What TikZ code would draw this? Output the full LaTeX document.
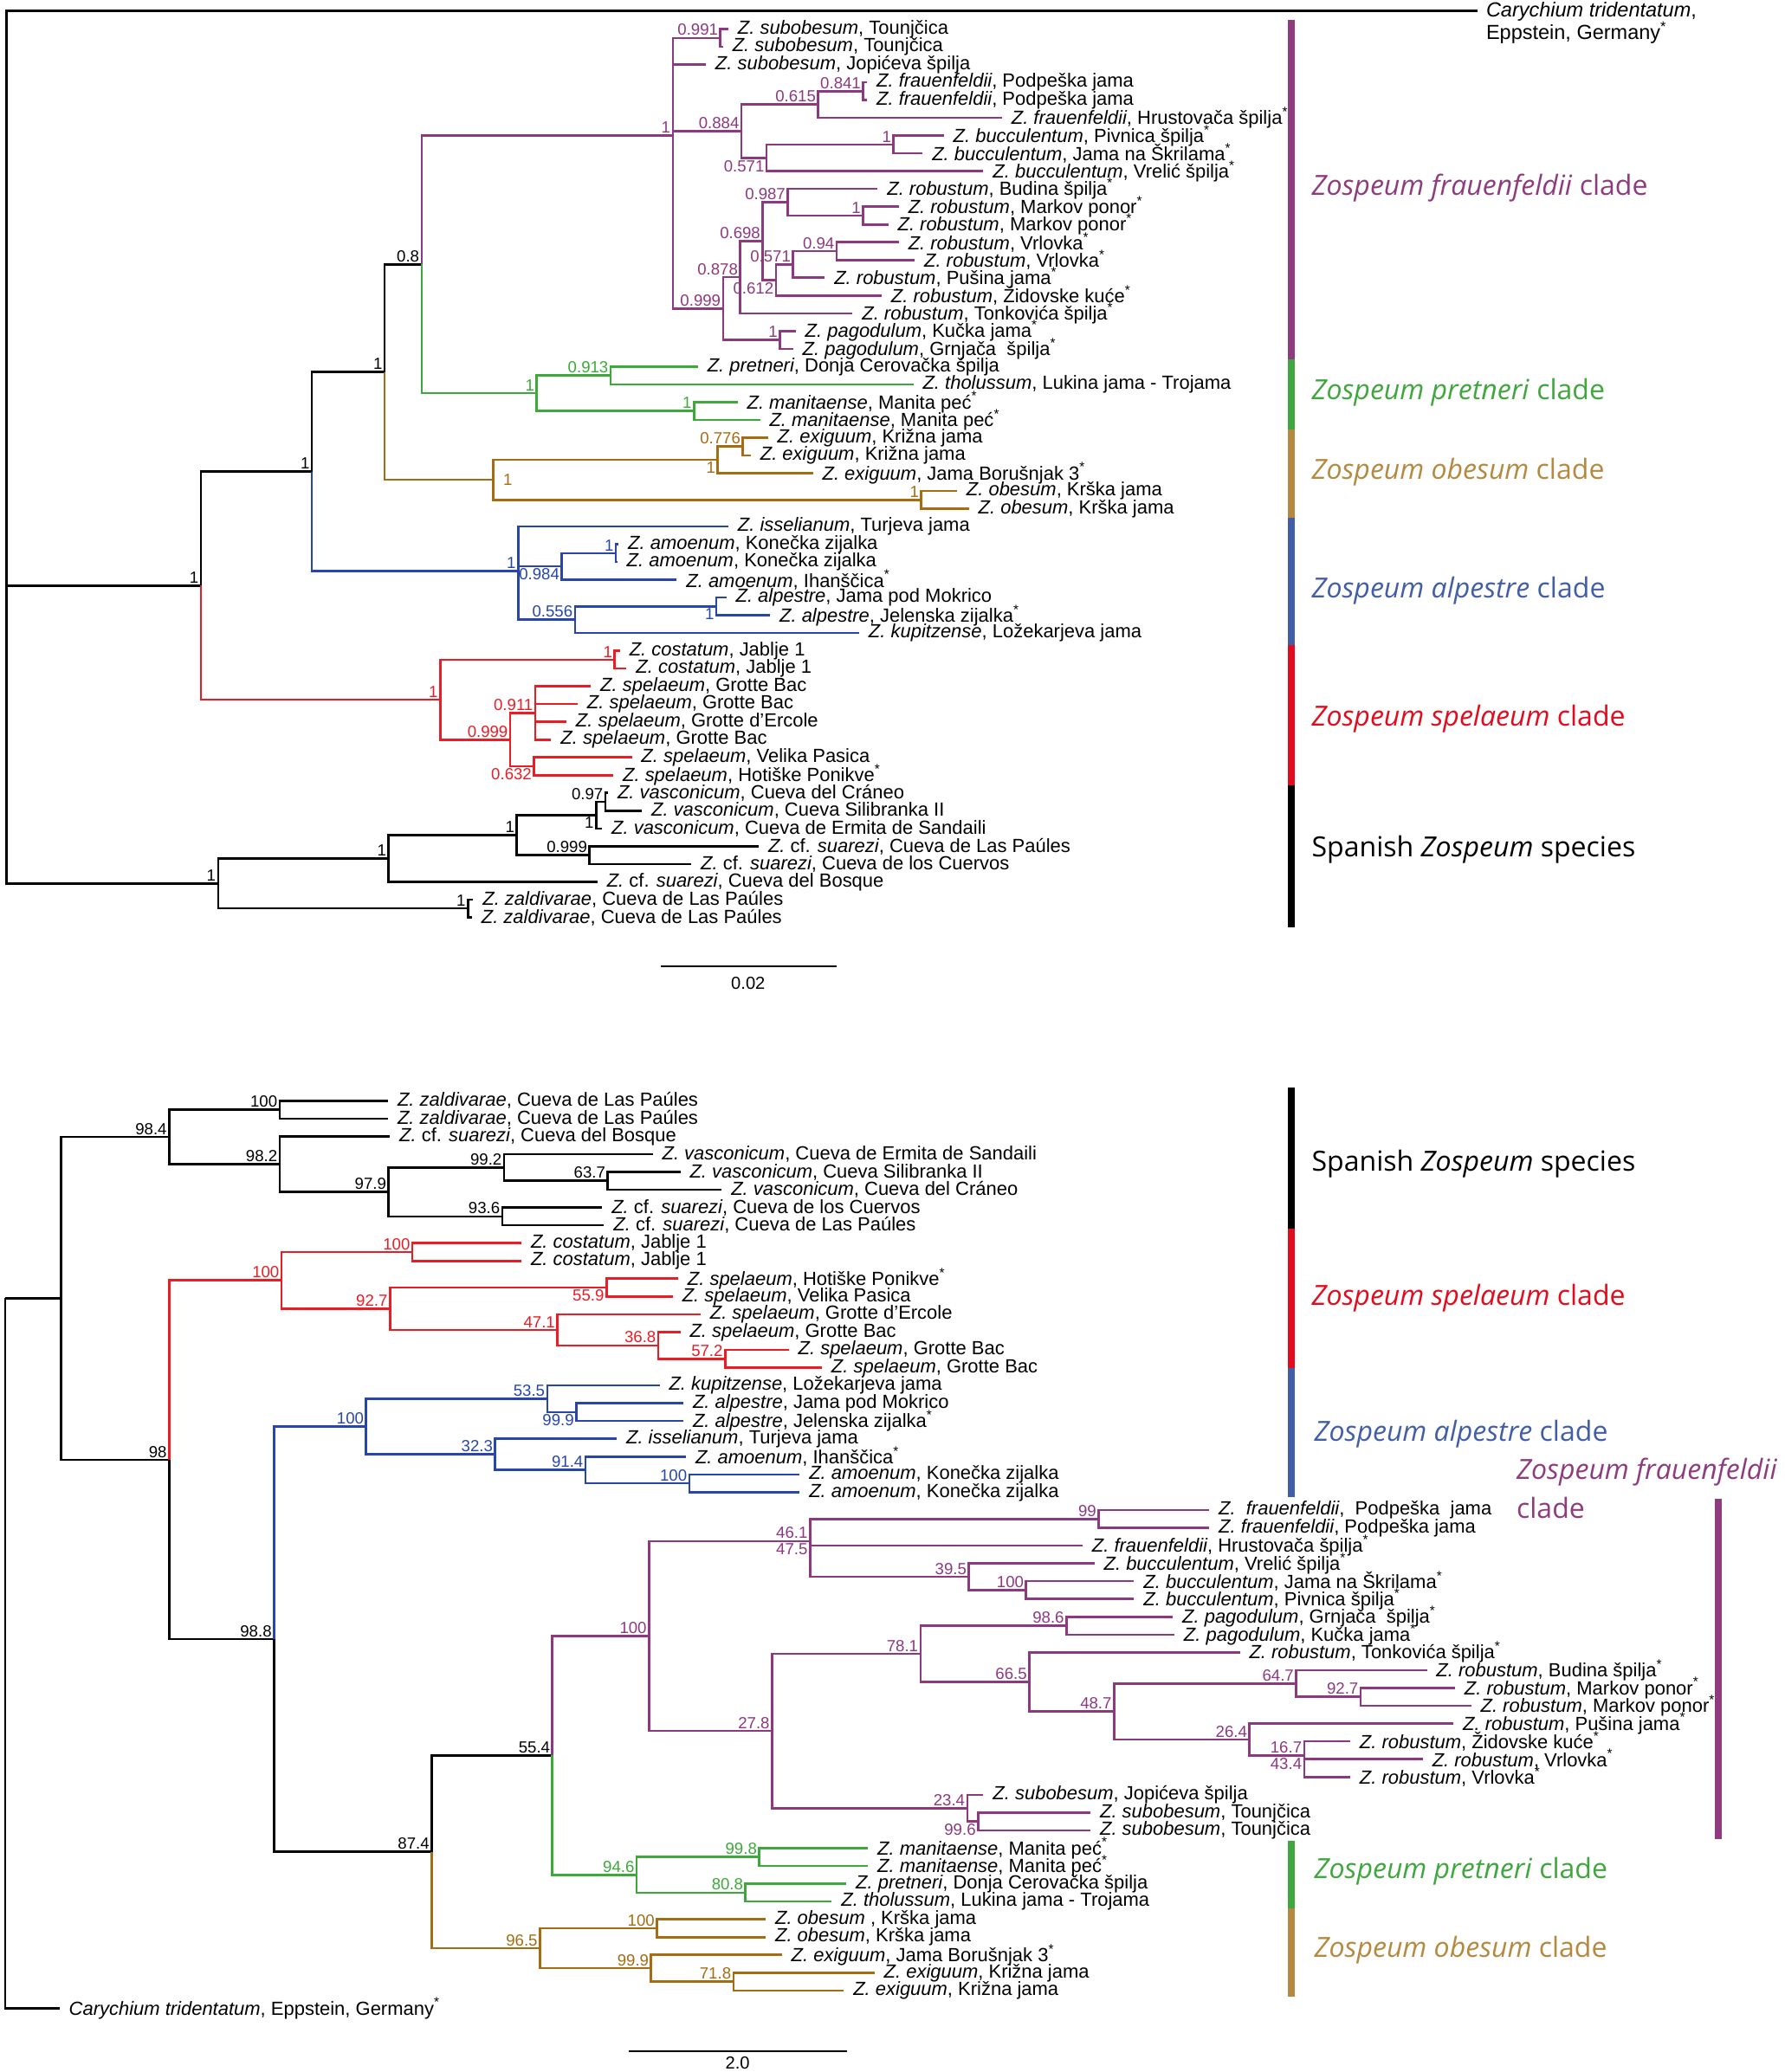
\documentclass[tikz,border=0pt]{standalone}
\usepackage{fontspec}
\setmainfont{Liberation Sans}
\newfontfamily\cladefont{Open Sans}
\definecolor{cpur}{RGB}{142,56,128}
\definecolor{cgrn}{RGB}{60,170,56}
\definecolor{cbrn}{RGB}{166,108,18}
\definecolor{cblu}{RGB}{40,70,168}
\definecolor{cred}{RGB}{236,28,36}
\definecolor{bpur}{RGB}{142,60,126}
\definecolor{bgrn}{RGB}{64,166,62}
\definecolor{bbrn}{RGB}{181,137,64}
\definecolor{bblu}{RGB}{66,94,166}
\definecolor{bred}{RGB}{226,12,30}
\newcommand\astk{\textsuperscript{*}}
\newcommand\tzl[2]{\textit{Z. #1}, #2}
\newcommand\cfs[1]{\textit{Z.} cf. \textit{suarezi}, #1}
\newcommand\tipx[6]{\coordinate (#1) at (#2,#3); \draw[#5] (#4) |- (#1); \node[tx] (#1l) at (#1) {#6};}
\newcommand\edg[3]{\draw[#1] (#2) |- (#3);}
\newcommand\svl[4]{\node[#1,text=#2] (L#3) at (#3) {#4};}
\tikzset{
  tx/.style={anchor=west, inner xsep=3.4pt, inner ysep=0pt, font=\fontsize{7.2}{8}\selectfont},
  sva/.style={anchor=south east, inner sep=0.7pt, font=\fontsize{6.1}{7}\selectfont},
  svb/.style={anchor=north east, inner sep=0.7pt, font=\fontsize{6.1}{7}\selectfont},
  svr/.style={anchor=west, inner sep=0.7pt, xshift=3pt, font=\fontsize{6.1}{7}\selectfont},
  brl/.style={line width=0.85pt},
  eBk/.style={brl, draw=black},
  ePu/.style={brl, draw=cpur},
  eGr/.style={brl, draw=cgrn},
  eBr/.style={brl, draw=cbrn},
  eBl/.style={brl, draw=cblu},
  eRd/.style={brl, draw=cred},
  cl/.style={anchor=west, inner sep=0pt, font=\cladefont\fontsize{10.5}{12}\selectfont},
  cbar/.style={line width=2.8pt},
}
\begin{document}
\begin{tikzpicture}[x=0.5pt,y=-0.5pt]
\fill[white] (0,0) rectangle (1350,1568);
\useasboundingbox (0,0) rectangle (1350,1568);

% ================= TOP TREE =================
\begin{scope}[yshift=-4.27pt, yscale=13.46]
\coordinate (rootT) at (5,32.33);
\coordinate (tout) at (1118,-0.04);
\coordinate (nA) at (152,32.33);
\coordinate (nB) at (236,25.91);
\coordinate (nred) at (333,38.75);
\coordinate (nC) at (291,20.31);
\coordinate (nblue) at (392,31.5);
\coordinate (nD) at (319,14.25);
\coordinate (nbrown) at (373,26.375);
\coordinate (P0) at (509,7.0);
\coordinate (ngreen) at (406,21.5);
\coordinate (n0991) at (545,1.5);
\coordinate (n0884) at (561,6.75);
\coordinate (n0615) at (619,5.25);
\coordinate (n0841) at (653,4.5);
\coordinate (n0571a) at (580,8.25);
\coordinate (nbucc) at (676,7.5);
\coordinate (n0999) at (547,16.734);
\coordinate (n0878) at (560,14.969);
\coordinate (n0698) at (577,12.938);
\coordinate (n0987) at (596,10.75);
\coordinate (nMark) at (653,11.5);
\coordinate (n0612) at (587,15.125);
\coordinate (n0571b) at (600,14.25);
\coordinate (n094) at (633,13.5);
\coordinate (npago) at (590,18.5);
\coordinate (n0913) at (462,20.5);
\coordinate (nmanit) at (525,22.5);
\coordinate (nexig) at (543,25.25);
\coordinate (n0776) at (562,24.5);
\coordinate (nobes) at (697,27.5);
\coordinate (namoen) at (466,30.5);
\coordinate (n0984) at (425,31.25);
\coordinate (n0556) at (435,34.25);
\coordinate (nalp) at (542,33.5);
\coordinate (ncost) at (465,36.5);
\coordinate (n0999r) at (386,41);
\coordinate (n0911) at (405,39.5);
\coordinate (n0632) at (404,42.5);
\coordinate (nsp) at (165,49.09);
\coordinate (nsp2) at (294,47.69);
\coordinate (nsp3) at (391,46.375);
\coordinate (nvasc) at (451,45.25);
\coordinate (n097) at (458,44.5);
\coordinate (nspq) at (446,47.5);
\coordinate (nzald) at (354,50.5);

\edg{eBk}{rootT}{tout}
\edg{eBk}{rootT}{nA}
\edg{eBk}{rootT}{nsp}
\edg{eBk}{nA}{nB}
\edg{eRd}{nA}{nred}
\edg{eBk}{nB}{nC}
\edg{eBl}{nB}{nblue}
\edg{eBk}{nC}{nD}
\edg{eBr}{nC}{nbrown}
\edg{ePu}{nD}{P0}
\edg{eGr}{nD}{ngreen}
% purple
\edg{ePu}{P0}{n0991}
\edg{ePu}{P0}{n0884}
\edg{ePu}{P0}{n0999}
\edg{ePu}{n0884}{n0615}
\edg{ePu}{n0884}{n0571a}
\edg{ePu}{n0615}{n0841}
\edg{ePu}{n0571a}{nbucc}
\edg{ePu}{n0999}{n0878}
\edg{ePu}{n0999}{npago}
\edg{ePu}{n0878}{n0698}
\edg{ePu}{n0698}{n0987}
\edg{ePu}{n0698}{n0612}
\edg{ePu}{n0987}{nMark}
\edg{ePu}{n0612}{n0571b}
\edg{ePu}{n0571b}{n094}
\tipx{t1}{551}{1}{n0991}{ePu}{\tzl{subobesum}{Tounjčica}}
\tipx{t2}{547}{2}{n0991}{ePu}{\tzl{subobesum}{Tounjčica}}
\tipx{t3}{534}{3}{P0}{ePu}{\tzl{subobesum}{Jopićeva špilja}}
\tipx{t4}{656}{4}{n0841}{ePu}{\tzl{frauenfeldii}{Podpeška jama}}
\tipx{t5}{656}{5}{n0841}{ePu}{\tzl{frauenfeldii}{Podpeška jama}}
\tipx{t6}{758}{6}{n0615}{ePu}{\tzl{frauenfeldii}{Hrustovača špilja\astk}}
\tipx{t7}{714}{7}{nbucc}{ePu}{\tzl{bucculentum}{Pivnica špilja\astk}}
\tipx{t8}{698}{8}{nbucc}{ePu}{\tzl{bucculentum}{Jama na Škrilama\astk}}
\tipx{t9}{744}{9}{n0571a}{ePu}{\tzl{bucculentum}{Vrelić špilja\astk}}
\tipx{t10}{664}{10}{n0987}{ePu}{\tzl{robustum}{Budina špilja\astk}}
\tipx{t11}{680}{11}{nMark}{ePu}{\tzl{robustum}{Markov ponor\astk}}
\tipx{t12}{672}{12}{nMark}{ePu}{\tzl{robustum}{Markov ponor\astk}}
\tipx{t13}{680}{13}{n094}{ePu}{\tzl{robustum}{Vrlovka\astk}}
\tipx{t14}{692}{14}{n094}{ePu}{\tzl{robustum}{Vrlovka\astk}}
\tipx{t15}{624}{15}{n0571b}{ePu}{\tzl{robustum}{Pušina jama\astk}}
\tipx{t16}{667}{16}{n0612}{ePu}{\tzl{robustum}{Židovske kuće\astk}}
\tipx{t17}{645}{17}{n0878}{ePu}{\tzl{robustum}{Tonkovića špilja\astk}}
\tipx{t18}{602}{18}{npago}{ePu}{\tzl{pagodulum}{Kučka jama\astk}}
\tipx{t19}{600}{19}{npago}{ePu}{\tzl{pagodulum}{Grnjača\ \ špilja\astk}}
% green
\edg{eGr}{ngreen}{n0913}
\edg{eGr}{ngreen}{nmanit}
\tipx{t20}{528}{20}{n0913}{eGr}{\tzl{pretneri}{Donja Cerovačka špilja}}
\tipx{t21}{691}{21}{n0913}{eGr}{\tzl{tholussum}{Lukina jama - Trojama}}
\tipx{t22}{558}{22}{nmanit}{eGr}{\tzl{manitaense}{Manita peć\astk}}
\tipx{t23}{575}{23}{nmanit}{eGr}{\tzl{manitaense}{Manita peć\astk}}
% brown
\edg{eBr}{nbrown}{nexig}
\edg{eBr}{nbrown}{nobes}
\edg{eBr}{nexig}{n0776}
\tipx{t24}{581}{24}{n0776}{eBr}{\tzl{exiguum}{Križna jama}}
\tipx{t25}{568}{25}{n0776}{eBr}{\tzl{exiguum}{Križna jama}}
\tipx{t26}{615}{26}{nexig}{eBr}{\tzl{exiguum}{Jama Borušnjak 3\astk}}
\tipx{t27}{724}{27}{nobes}{eBr}{\tzl{obesum}{Krška jama}}
\tipx{t28}{733}{28}{nobes}{eBr}{\tzl{obesum}{Krška jama}}
% blue
\edg{eBl}{nblue}{n0984}
\edg{eBl}{nblue}{n0556}
\edg{eBl}{n0984}{namoen}
\edg{eBl}{n0556}{nalp}
\tipx{t29}{551}{29}{nblue}{eBl}{\tzl{isselianum}{Turjeva jama}}
\tipx{t30}{468}{30}{namoen}{eBl}{\tzl{amoenum}{Konečka zijalka}}
\tipx{t31}{467}{31}{namoen}{eBl}{\tzl{amoenum}{Konečka zijalka}}
\tipx{t32}{512}{32}{n0984}{eBl}{\tzl{amoenum}{Ihanščica\astk}}
\tipx{t33}{549.5}{33}{nalp}{eBl}{\tzl{alpestre}{Jama pod Mokrico}}
\tipx{t34}{582.6}{34}{nalp}{eBl}{\tzl{alpestre}{Jelenska zijalka\astk}}
\tipx{t35}{650}{35}{n0556}{eBl}{\tzl{kupitzense}{Ložekarjeva jama}}
% red
\edg{eRd}{nred}{ncost}
\edg{eRd}{nred}{n0999r}
\edg{eRd}{n0999r}{n0911}
\edg{eRd}{n0999r}{n0632}
\tipx{t36}{469}{36}{ncost}{eRd}{\tzl{costatum}{Jablje 1}}
\tipx{t37}{474}{37}{ncost}{eRd}{\tzl{costatum}{Jablje 1}}
\tipx{t38}{447}{38}{n0911}{eRd}{\tzl{spelaeum}{Grotte Bac}}
\tipx{t39}{437}{39}{n0911}{eRd}{\tzl{spelaeum}{Grotte Bac}}
\tipx{t40}{428.5}{40}{n0911}{eRd}{\tzl{spelaeum}{Grotte d'Ercole}}
\tipx{t41}{417}{41}{n0911}{eRd}{\tzl{spelaeum}{Grotte Bac}}
\tipx{t42}{478}{42}{n0632}{eRd}{\tzl{spelaeum}{Velika Pasica}}
\tipx{t43}{464}{43}{n0632}{eRd}{\tzl{spelaeum}{Hotiške Ponikve\astk}}
% spanish
\edg{eBk}{nsp}{nsp2}
\edg{eBk}{nsp}{nzald}
\edg{eBk}{nsp2}{nsp3}
\edg{eBk}{nsp3}{nvasc}
\edg{eBk}{nsp3}{nspq}
\edg{eBk}{nvasc}{n097}
\tipx{t44}{460}{44}{n097}{eBk}{\tzl{vasconicum}{Cueva del Cráneo}}
\tipx{t45}{485.6}{45}{n097}{eBk}{\tzl{vasconicum}{Cueva Silibranka II}}
\tipx{t46}{455.5}{46}{nvasc}{eBk}{\tzl{vasconicum}{Cueva de Ermita de Sandaili}}
\tipx{t47}{574}{47}{nspq}{eBk}{\cfs{Cueva de Las Paúles}}
\tipx{t48}{523}{48}{nspq}{eBk}{\cfs{Cueva de los Cuervos}}
\tipx{t49}{452}{49}{nsp2}{eBk}{\cfs{Cueva del Bosque}}
\tipx{t50}{358}{50}{nzald}{eBk}{\tzl{zaldivarae}{Cueva de Las Paúles}}
\tipx{t51}{357}{51}{nzald}{eBk}{\tzl{zaldivarae}{Cueva de Las Paúles}}

% support values top
\svl{sva}{black}{nA}{1}
\svl{sva}{black}{nB}{1}
\svl{sva}{black}{nC}{1}
\svl{sva}{black}{nD}{0.8}
\svl{sva}{cpur}{P0}{1}
\svl{sva}{cpur}{n0991}{0.991}
\svl{sva}{cpur}{n0884}{0.884}
\svl{sva}{cpur}{n0615}{0.615}
\svl{sva}{cpur}{n0841}{0.841}
\svl{sva}{cpur}{nbucc}{1}
\svl{svb}{cpur}{n0571a}{0.571}
\svl{sva}{cpur}{n0987}{0.987}
\svl{sva}{cpur}{nMark}{1}
\svl{sva}{cpur}{n0698}{0.698}
\svl{sva}{cpur}{n094}{0.94}
\svl{sva}{cpur}{n0571b}{0.571}
\svl{sva}{cpur}{n0878}{0.878}
\svl{svb}{cpur}{n0612}{0.612}
\svl{sva}{cpur}{n0999}{0.999}
\svl{sva}{cpur}{npago}{1}
\svl{sva}{cgrn}{ngreen}{1}
\svl{sva}{cgrn}{n0913}{0.913}
\svl{sva}{cgrn}{nmanit}{1}
\svl{svr}{cbrn}{nbrown}{1}
\svl{svb}{cbrn}{nexig}{1}
\svl{sva}{cbrn}{n0776}{0.776}
\svl{sva}{cbrn}{nobes}{1}
\svl{sva}{cblu}{nblue}{1}
\svl{svb}{cblu}{n0984}{0.984}
\svl{sva}{cblu}{namoen}{1}
\svl{sva}{cblu}{n0556}{0.556}
\svl{svb}{cblu}{nalp}{1}
\svl{sva}{cred}{nred}{1}
\svl{sva}{cred}{ncost}{1}
\svl{sva}{cred}{n0911}{0.911}
\svl{sva}{cred}{n0999r}{0.999}
\svl{svb}{cred}{n0632}{0.632}
\svl{sva}{black}{nsp}{1}
\svl{sva}{black}{nsp2}{1}
\svl{sva}{black}{nsp3}{1}
\svl{svb}{black}{nvasc}{1}
\svl{sva}{black}{n097}{0.97}
\svl{sva}{black}{nspq}{0.999}
\svl{sva}{black}{nzald}{1}
\end{scope}

\node[anchor=north west, align=left, inner sep=0pt, font=\fontsize{7.7}{8.5}\selectfont] (toutl) at (1124,1) {\textit{Carychium tridentatum},\\Eppstein, Germany\astk};

% top clade bars and labels
\draw[cbar, bpur] (977,15) -- (977,272);
\draw[cbar, bgrn] (977,272) -- (977,325);
\draw[cbar, bbrn] (977,325) -- (977,392);
\draw[cbar, bblu] (977,392) -- (977,488);
\draw[cbar, bred] (977,488) -- (977,594);
\draw[cbar, black] (977,594) -- (977,702);
\node[cl, text=bpur] (cT1) at (992,142) {\textit{Zospeum frauenfeldii} clade};
\node[cl, text=bgrn] (cT2) at (992,297) {\textit{Zospeum pretneri} clade};
\node[cl, text=bbrn] (cT3) at (992,357) {\textit{Zospeum obesum} clade};
\node[cl, text=bblu] (cT4) at (992,447) {\textit{Zospeum alpestre} clade};
\node[cl, text=bred] (cT5) at (992,544) {\textit{Zospeum spelaeum} clade};
\node[cl, text=black] (cT6) at (992,643) {Spanish \textit{Zospeum} species};

% top scale bar
\coordinate (sbT1) at (500,731);
\coordinate (sbT2) at (633,731);
\draw[line width=0.6pt] (sbT1) -- (sbT2);
\node[font=\fontsize{6.6}{8}\selectfont, inner sep=0pt] (sbTl) at (566,744) {0.02};

% ================= BOTTOM TREE =================
\begin{scope}[yshift=-409.75pt, yscale=13.48]
\coordinate (rootB) at (4,12.1);
\coordinate (nin) at (46,12.1);
\coordinate (bout) at (45,52);
\coordinate (n984) at (128,3.031);
\coordinate (n98) at (128,21.18);
\coordinate (bzald) at (211.6,1.5);
\coordinate (n982) at (211.6,4.5625);
\coordinate (n979) at (294,6.125);
\coordinate (n992) at (381.4,4.75);
\coordinate (n637) at (459.8,5.5);
\coordinate (n936) at (380,7.5);
\coordinate (bred) at (213,11.094);
\coordinate (bcost) at (312,9.5);
\coordinate (n927) at (295,12.6875);
\coordinate (n559) at (458.8,11.5);
\coordinate (n471) at (421.7,13.875);
\coordinate (n368) at (498,14.75);
\coordinate (n572) at (548.6,15.5);
\coordinate (n988) at (207.3,31.26);
\coordinate (bblue) at (277,19.3125);
\coordinate (n535) at (414,17.75);
\coordinate (n999b) at (436,18.5);
\coordinate (n323) at (374.6,20.875);
\coordinate (n914) at (443,21.75);
\coordinate (n100a) at (521.5,22.5);
\coordinate (n874) at (326.6,43.21);
\coordinate (n554) at (417.9,37.79);
\coordinate (n100p) at (491,31.08);
\coordinate (n4647) at (612.8,25.75);
\coordinate (n99) at (831.2,24.5);
\coordinate (n395) at (733,27.75);
\coordinate (n100bu) at (776.3,28.5);
\coordinate (n278) at (584,36.415);
\coordinate (n781) at (696.4,32.08);
\coordinate (n986) at (806.8,30.5);
\coordinate (n665) at (778.7,33.66);
\coordinate (n487) at (842.8,35.325);
\coordinate (n647) at (980.6,33.75);
\coordinate (n927b) at (1029.4,34.5);
\coordinate (n264) at (945.3,36.9);
\coordinate (n1643) at (986.7,37.8);
\coordinate (n234) at (731.8,40.75);
\coordinate (n996) at (740,41.5);
\coordinate (n946) at (481.7,44.5);
\coordinate (n998) at (574.4,43.5);
\coordinate (n808) at (564,45.5);
\coordinate (n965) at (408.4,48.625);
\coordinate (n100o) at (497,47.5);
\coordinate (n999o) at (492.6,49.75);
\coordinate (n718) at (554.9,50.5);

\edg{eBk}{rootB}{nin}
\draw[eBk] (rootB) |- (bout);
\node[tx] (boutl) at (bout) {\textit{Carychium tridentatum}, Eppstein, Germany\astk};
\edg{eBk}{nin}{n984}
\edg{eBk}{nin}{n98}
% spanish
\edg{eBk}{n984}{bzald}
\edg{eBk}{n984}{n982}
\edg{eBk}{n982}{n979}
\edg{eBk}{n979}{n992}
\edg{eBk}{n979}{n936}
\edg{eBk}{n992}{n637}
\tipx{b1}{293.6}{1}{bzald}{eBk}{\tzl{zaldivarae}{Cueva de Las Paúles}}
\tipx{b2}{293.6}{2}{bzald}{eBk}{\tzl{zaldivarae}{Cueva de Las Paúles}}
\tipx{b3}{295}{3}{n982}{eBk}{\cfs{Cueva del Bosque}}
\tipx{b4}{493.8}{4}{n992}{eBk}{\tzl{vasconicum}{Cueva de Ermita de Sandaili}}
\tipx{b5}{514.7}{5}{n637}{eBk}{\tzl{vasconicum}{Cueva Silibranka II}}
\tipx{b6}{546}{6}{n637}{eBk}{\tzl{vasconicum}{Cueva del Cráneo}}
\tipx{b7}{455.6}{7}{n936}{eBk}{\cfs{Cueva de los Cuervos}}
\tipx{b8}{457}{8}{n936}{eBk}{\cfs{Cueva de Las Paúles}}
% red
\edg{eRd}{n98}{bred}
\edg{eBk}{n98}{n988}
\edg{eRd}{bred}{bcost}
\edg{eRd}{bred}{n927}
\edg{eRd}{n927}{n559}
\edg{eRd}{n927}{n471}
\edg{eRd}{n471}{n368}
\edg{eRd}{n368}{n572}
\tipx{b9}{394.5}{9}{bcost}{eRd}{\tzl{costatum}{Jablje 1}}
\tipx{b10}{394.5}{10}{bcost}{eRd}{\tzl{costatum}{Jablje 1}}
\tipx{b11}{513}{11}{n559}{eRd}{\tzl{spelaeum}{Hotiške Ponikve\astk}}
\tipx{b12}{509}{12}{n559}{eRd}{\tzl{spelaeum}{Velika Pasica}}
\tipx{b13}{530}{13}{n471}{eRd}{\tzl{spelaeum}{Grotte d'Ercole}}
\tipx{b14}{514.7}{14}{n368}{eRd}{\tzl{spelaeum}{Grotte Bac}}
\tipx{b15}{596.7}{15}{n572}{eRd}{\tzl{spelaeum}{Grotte Bac}}
\tipx{b16}{621.8}{16}{n572}{eRd}{\tzl{spelaeum}{Grotte Bac}}
% blue
\edg{eBl}{n988}{bblue}
\edg{eBk}{n988}{n874}
\edg{eBl}{bblue}{n535}
\edg{eBl}{bblue}{n323}
\edg{eBl}{n535}{n999b}
\edg{eBl}{n323}{n914}
\edg{eBl}{n914}{n100a}
\tipx{b17}{499}{17}{n535}{eBl}{\tzl{kupitzense}{Ložekarjeva jama}}
\tipx{b18}{517}{18}{n999b}{eBl}{\tzl{alpestre}{Jama pod Mokrico}}
\tipx{b19}{517}{19}{n999b}{eBl}{\tzl{alpestre}{Jelenska zijalka\astk}}
\tipx{b20}{466.6}{20}{n323}{eBl}{\tzl{isselianum}{Turjeva jama}}
\tipx{b21}{519}{21}{n914}{eBl}{\tzl{amoenum}{Ihanščica\astk}}
\tipx{b22}{605}{22}{n100a}{eBl}{\tzl{amoenum}{Konečka zijalka}}
\tipx{b23}{605}{23}{n100a}{eBl}{\tzl{amoenum}{Konečka zijalka}}
% backbone
\edg{eBk}{n874}{n554}
\edg{eBr}{n874}{n965}
\edg{ePu}{n554}{n100p}
\edg{eGr}{n554}{n946}
% purple
\edg{ePu}{n100p}{n4647}
\edg{ePu}{n100p}{n278}
\edg{ePu}{n4647}{n99}
\edg{ePu}{n4647}{n395}
\edg{ePu}{n395}{n100bu}
\edg{ePu}{n278}{n781}
\edg{ePu}{n278}{n234}
\edg{ePu}{n781}{n986}
\edg{ePu}{n781}{n665}
\edg{ePu}{n665}{n487}
\edg{ePu}{n487}{n647}
\edg{ePu}{n647}{n927b}
\edg{ePu}{n487}{n264}
\edg{ePu}{n264}{n1643}
\edg{ePu}{n234}{n996}
\tipx{b24}{914.8}{24}{n99}{ePu}{\textit{Z.\ \ frauenfeldii},\ \ Podpeška\ \ jama}
\tipx{b25}{914.8}{25}{n99}{ePu}{\tzl{frauenfeldii}{Podpeška jama}}
\tipx{b26}{819}{26}{n4647}{ePu}{\tzl{frauenfeldii}{Hrustovača špilja\astk}}
\tipx{b27}{828}{27}{n395}{ePu}{\tzl{bucculentum}{Vrelić špilja\astk}}
\tipx{b28}{858}{28}{n100bu}{ePu}{\tzl{bucculentum}{Jama na Škrilama\astk}}
\tipx{b29}{858}{29}{n100bu}{ePu}{\tzl{bucculentum}{Pivnica špilja\astk}}
\tipx{b30}{887.3}{30}{n986}{ePu}{\tzl{pagodulum}{Grnjača\ \ špilja\astk}}
\tipx{b31}{888.5}{31}{n986}{ePu}{\tzl{pagodulum}{Kučka jama\astk}}
\tipx{b32}{938}{32}{n665}{ePu}{\tzl{robustum}{Tonkovića špilja\astk}}
\tipx{b33}{1079.5}{33}{n647}{ePu}{\tzl{robustum}{Budina špilja\astk}}
\tipx{b34}{1100.8}{34}{n927b}{ePu}{\tzl{robustum}{Markov ponor\astk}}
\tipx{b35}{1113}{35}{n927b}{ePu}{\tzl{robustum}{Markov ponor\astk}}
\tipx{b36}{1099.6}{36}{n264}{ePu}{\tzl{robustum}{Pušina jama\astk}}
\tipx{b37}{1021.5}{37}{n1643}{ePu}{\tzl{robustum}{Židovske kuće\astk}}
\tipx{b38}{1076.4}{38}{n1643}{ePu}{\tzl{robustum}{Vrlovka\astk}}
\tipx{b39}{1021.5}{39}{n1643}{ePu}{\tzl{robustum}{Vrlovka\astk}}
\tipx{b40}{744}{40}{n234}{ePu}{\tzl{subobesum}{Jopićeva špilja}}
\tipx{b41}{825}{41}{n996}{ePu}{\tzl{subobesum}{Tounjčica}}
\tipx{b42}{825}{42}{n996}{ePu}{\tzl{subobesum}{Tounjčica}}
% green
\edg{eGr}{n946}{n998}
\edg{eGr}{n946}{n808}
\tipx{b43}{656.7}{43}{n998}{eGr}{\tzl{manitaense}{Manita peć\astk}}
\tipx{b44}{656.7}{44}{n998}{eGr}{\tzl{manitaense}{Manita peć\astk}}
\tipx{b45}{640.3}{45}{n808}{eGr}{\tzl{pretneri}{Donja Cerovačka špilja}}
\tipx{b46}{629.3}{46}{n808}{eGr}{\tzl{tholussum}{Lukina jama - Trojama}}
% brown
\edg{eBr}{n965}{n100o}
\edg{eBr}{n965}{n999o}
\edg{eBr}{n999o}{n718}
\tipx{b47}{579.3}{47}{n100o}{eBr}{\textit{Z. obesum}\ , Krška jama}
\tipx{b48}{579.3}{48}{n100o}{eBr}{\tzl{obesum}{Krška jama}}
\tipx{b49}{591.5}{49}{n999o}{eBr}{\tzl{exiguum}{Jama Borušnjak 3\astk}}
\tipx{b50}{661.6}{50}{n718}{eBr}{\tzl{exiguum}{Križna jama}}
\tipx{b51}{638.4}{51}{n718}{eBr}{\tzl{exiguum}{Križna jama}}

% support values bottom
\svl{sva}{black}{n984}{98.4}
\svl{sva}{black}{bzald}{100}
\svl{sva}{black}{n982}{98.2}
\svl{sva}{black}{n992}{99.2}
\svl{sva}{black}{n637}{63.7}
\svl{sva}{black}{n979}{97.9}
\svl{sva}{black}{n936}{93.6}
\svl{sva}{black}{n98}{98}
\svl{sva}{black}{n988}{98.8}
\svl{sva}{black}{n554}{55.4}
\svl{sva}{black}{n874}{87.4}
\svl{sva}{cred}{bcost}{100}
\svl{sva}{cred}{bred}{100}
\svl{svb}{cred}{n559}{55.9}
\svl{sva}{cred}{n927}{92.7}
\svl{sva}{cred}{n471}{47.1}
\svl{sva}{cred}{n368}{36.8}
\svl{sva}{cred}{n572}{57.2}
\svl{sva}{cblu}{n535}{53.5}
\svl{svb}{cblu}{n999b}{99.9}
\svl{sva}{cblu}{bblue}{100}
\svl{sva}{cblu}{n323}{32.3}
\svl{sva}{cblu}{n914}{91.4}
\svl{sva}{cblu}{n100a}{100}
\svl{sva}{cpur}{n99}{99}
\svl{sva}{cpur}{n4647}{46.1}
\node[svb, text=cpur] (L2n4647) at (n4647) {47.5};
\svl{sva}{cpur}{n395}{39.5}
\svl{sva}{cpur}{n100bu}{100}
\svl{sva}{cpur}{n100p}{100}
\svl{sva}{cpur}{n986}{98.6}
\svl{sva}{cpur}{n781}{78.1}
\svl{sva}{cpur}{n665}{66.5}
\svl{sva}{cpur}{n647}{64.7}
\svl{sva}{cpur}{n927b}{92.7}
\svl{sva}{cpur}{n487}{48.7}
\svl{sva}{cpur}{n278}{27.8}
\svl{sva}{cpur}{n264}{26.4}
\svl{sva}{cpur}{n1643}{16.7}
\node[svb, text=cpur] (L2n1643) at (n1643) {43.4};
\svl{sva}{cpur}{n234}{23.4}
\svl{svb}{cpur}{n996}{99.6}
\svl{sva}{cgrn}{n998}{99.8}
\svl{sva}{cgrn}{n946}{94.6}
\svl{sva}{cgrn}{n808}{80.8}
\svl{sva}{cbrn}{n100o}{100}
\svl{sva}{cbrn}{n965}{96.5}
\svl{sva}{cbrn}{n999o}{99.9}
\svl{sva}{cbrn}{n718}{71.8}
\end{scope}

% bottom clade bars and labels
\draw[cbar, black] (977,823) -- (977,930);
\draw[cbar, bred] (977,930) -- (977,1035);
\draw[cbar, bblu] (977,1035) -- (977,1133);
\draw[cbar, bpur] (1300,1134) -- (1300,1392);
\draw[cbar, bgrn] (977,1393) -- (977,1444);
\draw[cbar, bbrn] (977,1444) -- (977,1511);
\node[cl, text=black] (cB1) at (992,881) {Spanish \textit{Zospeum} species};
\node[cl, text=bred] (cB2) at (992,982) {\textit{Zospeum spelaeum} clade};
\node[cl, text=bblu] (cB3) at (994,1085) {\textit{Zospeum alpestre} clade};
\node[cl, text=bpur] (cB4) at (1147,1114) {\textit{Zospeum frauenfeldii}};
\node[cl, text=bpur] (cB5) at (1147,1141) {clade};
\node[cl, text=bgrn] (cB6) at (994,1416) {\textit{Zospeum pretneri} clade};
\node[cl, text=bbrn] (cB7) at (994,1476) {\textit{Zospeum obesum} clade};

% bottom scale bar
\coordinate (sbB1) at (476,1552);
\coordinate (sbB2) at (641,1552);
\draw[line width=0.6pt] (sbB1) -- (sbB2);
\node[font=\fontsize{6.6}{8}\selectfont, inner sep=0pt] (sbBl) at (558,1561) {2.0};
\end{tikzpicture}
\end{document}
